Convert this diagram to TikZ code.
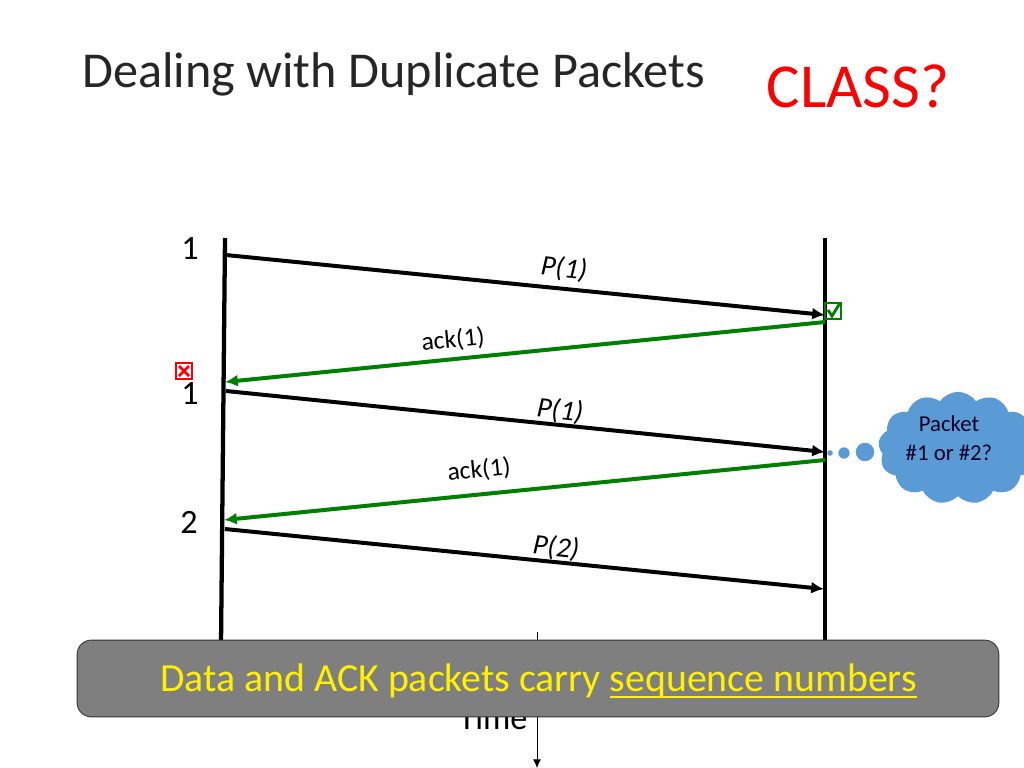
\documentclass[tikz,border=0pt]{standalone}
\usepackage{fontspec}
\setmainfont{Carlito}
\usetikzlibrary{arrows.meta, shapes.symbols}
\definecolor{ackgreen}{RGB}{0,128,0}
\definecolor{cloudblue}{RGB}{91,155,213}
\definecolor{bargray}{RGB}{127,127,127}
\newlength{\ulwidth}
\newcommand{\thickunder}[1]{\settowidth{\ulwidth}{#1}\rlap{\rule[-4.5pt]{\ulwidth}{1.2pt}}#1}
\tikzset{
	timeline/.style={line width=3pt},
	msg/.style={line width=2.8pt, -{Latex[length=9pt,width=8.5pt]}},
	ack/.style={msg, draw=ackgreen},
	msglabel/.style={font=\fontsize{20}{24}\selectfont\itshape, inner sep=0pt},
	acklabel/.style={font=\fontsize{18}{22}\selectfont, inner sep=0pt},
	seqlabel/.style={font=\fontsize{24}{28}\selectfont, inner sep=0pt},
	puff/.style={circle, fill=cloudblue, inner sep=0pt}
}
\begin{document}
\begin{tikzpicture}[x=0.703pt, y=-0.703pt]
			\useasboundingbox (0, 0) rectangle (1024, 768);
			\clip (0, 0) rectangle (1024, 768);
			\coordinate (lefttop) at (225, 238);
			\coordinate (leftbottom) at (221, 645);
			\coordinate (righttop) at (825, 238);
			\coordinate (rightbottom) at (825, 645);
			\coordinate (timetop) at (537, 632);
			\coordinate (timebottom) at (537, 768);
			
			\coordinate (p1a) at (226, 255);
			\coordinate (p1b) at (825, 315);
			\coordinate (a1a) at (825, 322);
			\coordinate (a1b) at (225, 382);
			\coordinate (p2a) at (226, 391);
			\coordinate (p2b) at (825, 452);
			\coordinate (a2a) at (825, 460);
			\coordinate (a2b) at (224, 520);
			\coordinate (p3a) at (225, 529);
			\coordinate (p3b) at (824, 589);
			
			\node[anchor=base west, inner sep=0pt, text=black!85, font=\fontsize{35.3}{40}\selectfont] (title) at (82, 87) {Dealing with Duplicate Packets};
			\node[anchor=base, inner sep=0pt, text=red, font=\fontsize{44}{48}\selectfont] (class) at (858, 107) {CLASS?};
			
			\draw[timeline] (lefttop) -- (leftbottom);
			\draw[timeline] (righttop) -- (rightbottom);
			\draw[-{Latex[length=6pt,width=5.5pt]}, line width=0.5pt] (timetop) -- (timebottom);
			
			\node[seqlabel] (seqone) at (190, 249) {1};
			\node[seqlabel] (seqtwo) at (190, 394) {1};
			\node[seqlabel] (seqthree) at (189, 522) {2};
			
			\draw[msg] (p1a) -- (p1b);
			\draw[ack] (a1a) -- (a1b);
			\draw[msg] (p2a) -- (p2b);
			\draw[ack] (a2a) -- (a2b);
			\draw[msg] (p3a) -- (p3b);
			
			\node[msglabel, rotate=-6] (pone) at (564, 269) {P(1)};
			\node[acklabel, rotate=5.7] (ackone) at (453, 340) {ack(1)};
			\node[msglabel, rotate=-6] (ptwo) at (560, 411) {P(1)};
			\node[acklabel, rotate=5.7] (acktwo) at (479, 470) {ack(1)};
			\node[msglabel, rotate=-6] (pthree) at (556, 548) {P(2)};
			
			% tick and cross
			\node[draw=ackgreen, line width=1.1pt, minimum size=11pt, inner sep=0pt] (tickbox) at (833, 311) {};
			\draw[ackgreen, line width=2pt] (828, 310) -- (832, 316) -- (840, 303);
			\node[draw=red, line width=1.1pt, minimum size=11pt, inner sep=0pt] (crossbox) at (184, 371) {};
			\draw[red, line width=1.9pt] (179, 366) -- (189, 376);
			\draw[red, line width=1.9pt] (189, 366) -- (179, 376);
			
			% thought bubble
			\node[puff, minimum size=4pt] (dotone) at (830, 453) {};
			\node[puff, minimum size=8pt] (dottwo) at (844, 453) {};
			\node[puff, minimum size=13pt] (dotthree) at (865, 452) {};
			\node[cloud, cloud puffs=13, cloud puff arc=110, aspect=1.35, fill=cloudblue, minimum width=112pt, minimum height=79pt, inner sep=0pt] (bubble) at (958, 448) {};
			\node[align=center, inner sep=0pt, font=\fontsize{16}{20}\selectfont, text=black!85!blue] (bubbletext) at (949, 438) {Packet\\\#1 or \#2?};
			
			\node[seqlabel] (timelabel) at (493, 718) {Time};
			
			\node[draw=black!80, line width=0.6pt, fill=bargray, rounded corners=10pt, minimum width=648pt, minimum height=54pt, inner sep=0pt] (bar) at (538, 678.5) {};
			\node[inner sep=0pt, text=yellow, font=\fontsize{28}{32}\selectfont] (bartext) at (538.5, 681) {Data and ACK packets carry \thickunder{sequence numbers}};
			
		\end{tikzpicture}
\end{document}
